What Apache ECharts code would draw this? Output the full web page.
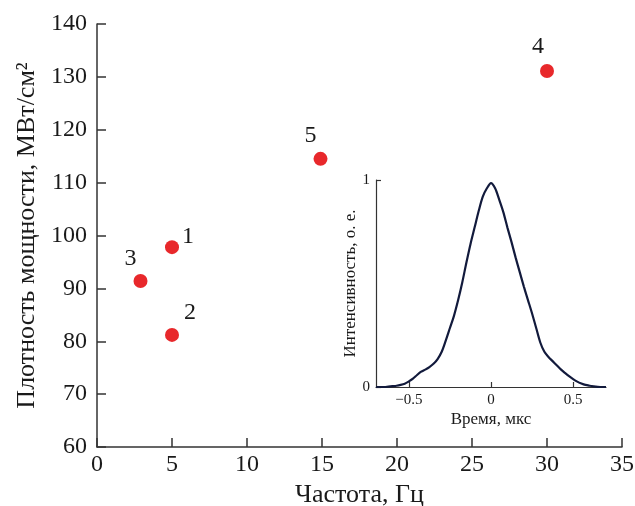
<!DOCTYPE html>
<html>
<head>
<meta charset="utf-8">
<script src="https://cdn.jsdelivr.net/npm/echarts@6/dist/echarts.min.js"></script>
<style>html,body{margin:0;padding:0;background:#fff}#c{width:635px;height:506px}</style>
</head>
<body>
<div id="c"></div>
<script>
// Main scatter data
const pointNames = ['1', '2', '3', '4', '5'];
const freqHz = [5, 5, 2.9, 30, 14.9];
const powerDensity = [97.8, 81.2, 91.4, 131.1, 114.5];
const labelOffsets = [[16, -10], [18, -22], [-10, -22], [-9, -24], [-10, -23]];

// Inset pulse data
const timeUs = [-0.700,-0.675,-0.650,-0.625,-0.600,-0.575,-0.550,-0.525,-0.500,-0.475,-0.450,-0.425,-0.400,-0.375,-0.350,-0.325,-0.300,-0.275,-0.250,-0.225,-0.200,-0.175,-0.150,-0.125,-0.100,-0.075,-0.050,-0.025,0.000,0.025,0.050,0.075,0.100,0.125,0.150,0.175,0.200,0.225,0.250,0.275,0.300,0.325,0.350,0.375,0.400,0.425,0.450,0.475,0.500,0.525,0.550,0.575,0.600,0.625,0.650,0.675,0.700];
const intensity = [0.000,0.000,0.000,0.002,0.004,0.006,0.010,0.016,0.027,0.040,0.058,0.074,0.084,0.096,0.112,0.135,0.170,0.225,0.285,0.345,0.420,0.505,0.600,0.690,0.770,0.850,0.920,0.960,0.985,0.960,0.905,0.845,0.770,0.700,0.625,0.555,0.485,0.420,0.355,0.285,0.215,0.170,0.145,0.125,0.105,0.085,0.068,0.052,0.038,0.026,0.017,0.010,0.006,0.003,0.001,0.000,0.000];
const insetXTicks = [-0.5, 0, 0.5];

const serif = "'Liberation Serif', 'Times New Roman', serif";
const axisColor = '#333';
const textColor = '#1a1a1a';

const scatterData = pointNames.map((n, i) => ({
  name: n,
  value: [freqHz[i], powerDensity[i]],
  label: { offset: labelOffsets[i] }
}));
const pulseData = timeUs.map((t, i) => [t, intensity[i]]);

const chart = echarts.init(document.getElementById('c'));
chart.setOption({
  animation: false,
  backgroundColor: '#fff',
  grid: [
    { left: 97, right: 13, top: 24, bottom: 59, containLabel: false, outerBoundsMode: 'none' },
    { left: 376, top: 180, width: 230, height: 207, containLabel: false, outerBoundsMode: 'none' }
  ],
  xAxis: [
    {
      gridIndex: 0, type: 'value', min: 0, max: 35, interval: 5,
      name: 'Частота, Гц', nameLocation: 'middle', nameGap: 33,
      nameTextStyle: { fontFamily: serif, fontSize: 26, color: textColor },
      axisLine: { lineStyle: { color: axisColor, width: 1.5 } },
      axisTick: { inside: true, length: 9, lineStyle: { color: axisColor, width: 1.5 } },
      axisLabel: { fontFamily: serif, fontSize: 24, color: textColor, margin: 6 },
      splitLine: { show: false }
    },
    {
      gridIndex: 1, type: 'value', min: -0.7, max: 0.7,
      name: 'Время, мкс', nameLocation: 'middle', nameGap: 24,
      nameTextStyle: { fontFamily: serif, fontSize: 17, color: textColor },
      axisLine: { onZero: false, lineStyle: { color: axisColor, width: 1.2 } },
      axisTick: { inside: true, length: 5, customValues: insetXTicks, lineStyle: { color: axisColor, width: 1.2 } },
      axisLabel: { fontFamily: serif, fontSize: 15, color: textColor, margin: 6, customValues: insetXTicks,
        formatter: v => String(v).replace('-', '\u2212') },
      splitLine: { show: false }
    }
  ],
  yAxis: [
    {
      gridIndex: 0, type: 'value', min: 60, max: 140, interval: 10,
      name: 'Плотность мощности, МВт/см²', nameLocation: 'middle', nameGap: 54,
      nameTextStyle: { fontFamily: serif, fontSize: 26, color: textColor },
      axisLine: { lineStyle: { color: axisColor, width: 1.5 } },
      axisTick: { inside: true, length: 9, lineStyle: { color: axisColor, width: 1.5 } },
      axisLabel: { fontFamily: serif, fontSize: 24, color: textColor, margin: 10 },
      splitLine: { show: false }
    },
    {
      gridIndex: 1, type: 'value', min: 0, max: 1, interval: 1,
      name: 'Интенсивность, о. е.', nameLocation: 'middle', nameGap: 17,
      nameTextStyle: { fontFamily: serif, fontSize: 17, color: textColor },
      axisLine: { onZero: false, lineStyle: { color: axisColor, width: 1.2 } },
      axisTick: { inside: true, length: 5, lineStyle: { color: axisColor, width: 1.2 } },
      axisLabel: { fontFamily: serif, fontSize: 15, color: textColor, margin: 6 },
      splitLine: { show: false }
    }
  ],
  series: [
    {
      type: 'scatter', xAxisIndex: 0, yAxisIndex: 0,
      symbolSize: 14,
      itemStyle: { color: '#e8282b', opacity: 1 },
      label: { show: true, position: 'inside', formatter: '{b}', fontFamily: serif, fontSize: 24, color: textColor },
      data: scatterData
    },
    {
      type: 'line', xAxisIndex: 1, yAxisIndex: 1,
      showSymbol: false, smooth: 0.3,
      lineStyle: { color: '#121a3c', width: 2.2 },
      data: pulseData
    }
  ]
});
</script>
</body>
</html>
